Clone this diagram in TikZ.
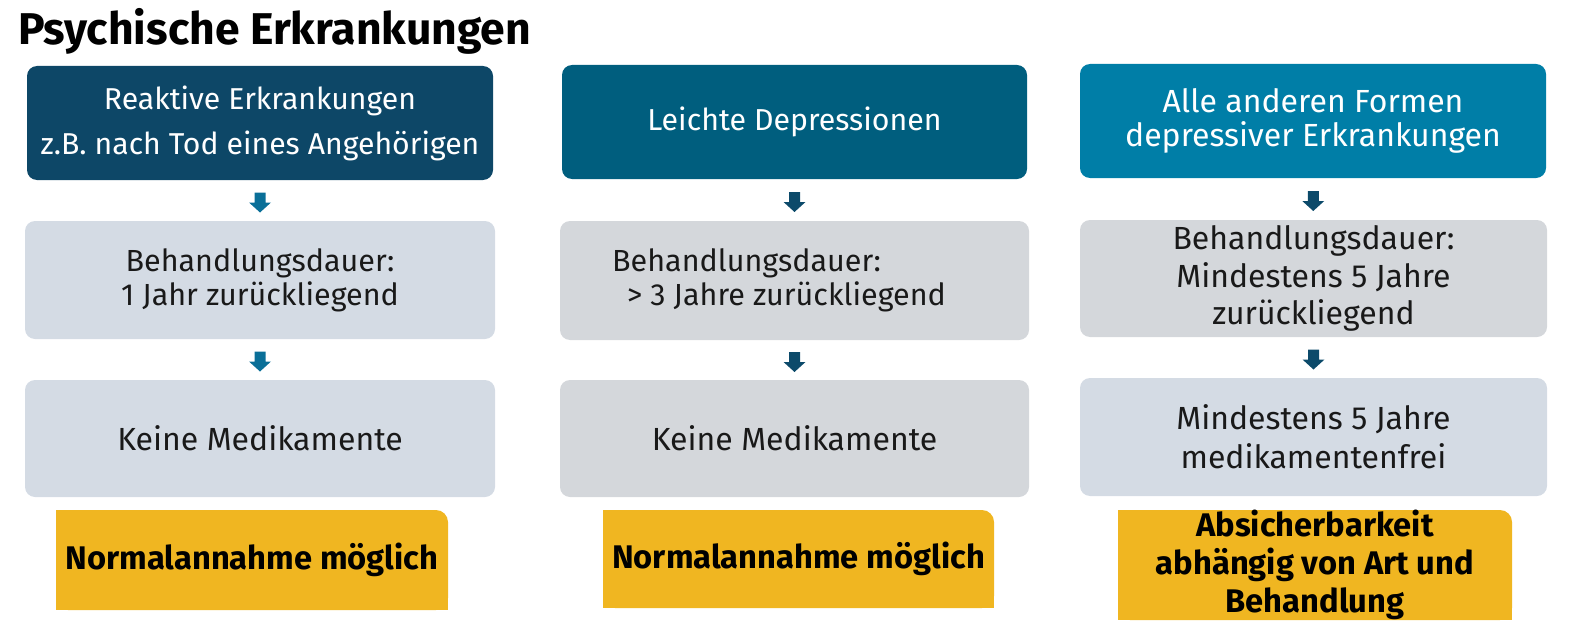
\documentclass[tikz,border=0pt]{standalone}
\usepackage{fontspec}
\setmainfont{Fira Sans}
\usetikzlibrary{calc,backgrounds}
\definecolor{topA}{HTML}{0D4767}
\definecolor{topB}{HTML}{005E7E}
\definecolor{topC}{HTML}{007EA7}
\definecolor{arrA}{HTML}{0A6F98}
\definecolor{arrB}{HTML}{0C4A6A}
\definecolor{grayA}{HTML}{D4DBE4}
\definecolor{grayB}{HTML}{D4D7DB}
\definecolor{yel}{HTML}{F0B621}
\tikzset{
  topbox/.style={rounded corners=10pt, inner sep=0pt, text=white, align=center, minimum width=466pt, minimum height=114pt},
  graybox/.style={rounded corners=10pt, inner sep=0pt, text=black!90, align=center, minimum width=470pt, minimum height=118pt},
  yelbox/.style={rounded corners=12pt, inner sep=0pt, fill=yel, text=black, align=center, font=\bfseries\fontsize{32.7}{38}\selectfont},
  downarr/.pic={\fill (-5.5,-8) -- (5.5,-8) -- (5.5,2) -- (11,2) -- (0,12) -- (-11,2) -- (-5.5,2) -- cycle;}
}
\newcommand{\yelcorners}[1]{%
  \fill[yel] (#1.south west) rectangle ($(#1.north east)+(-15,0)$);
  \fill[yel] (#1.south east) rectangle ($(#1.north west)+(0,15)$);}
\begin{document}
\begin{tikzpicture}[x=1pt,y=-1pt]
\useasboundingbox (0,0) rectangle (1572,626);
\node[anchor=base west, inner sep=0pt, font=\bfseries\fontsize{44.5}{50}\selectfont] (title) at (18,45) {Psychische Erkrankungen};

% column 1
\node[topbox, fill=topA, font=\fontsize{30.2}{45}\selectfont] (t1) at (260,123) {Reaktive Erkrankungen\\z.B. nach Tod eines Angehörigen};
\node[graybox, fill=grayA, font=\fontsize{30.5}{34}\selectfont] (b1) at (260,280) {Behandlungsdauer:\\1 Jahr zurückliegend};
\node[graybox, fill=grayA, font=\fontsize{32}{34}\selectfont, minimum height=117pt] (c1) at (260,438.5) {Keine Medikamente};
\node[yelbox, minimum width=392pt, minimum height=100pt] (y1) at (252,560) {Normalannahme möglich};

% column 2
\node[topbox, fill=topB, minimum width=465pt, font=\fontsize{30.3}{34}\selectfont] (t2) at (794.5,122) {Leichte Depressionen};
\node[graybox, fill=grayB, minimum width=469pt, minimum height=119pt, align=left, font=\fontsize{30.5}{34}\selectfont] (b2) at (794.5,280.5) {Behandlungsdauer:\\\hspace*{15pt}> 3 Jahre zurückliegend\hspace*{31pt}};
\node[graybox, fill=grayB, minimum width=469pt, minimum height=117pt, font=\fontsize{32}{34}\selectfont] (c2) at (794.5,438.5) {Keine Medikamente};
\node[yelbox, minimum width=391pt, minimum height=98pt] (y2) at (798.5,559) {Normalannahme möglich};

% column 3
\node[topbox, fill=topC, font=\fontsize{32}{34}\selectfont] (t3) at (1313,121) {Alle anderen Formen\\depressiver Erkrankungen};
\node[graybox, fill=grayB, minimum width=467pt, minimum height=117pt, font=\fontsize{32}{37.5}\selectfont] (b3) at (1313.5,278.5) {Behandlungsdauer:\\Mindestens 5 Jahre\\zurückliegend};
\node[graybox, fill=grayA, minimum width=467pt, font=\fontsize{32}{39}\selectfont] (c3) at (1313.5,437) {Mindestens 5 Jahre\\medikamentenfrei};
\node[yelbox, minimum width=394pt, minimum height=110pt] (y3) at (1315,565) {Absicherbarkeit\\abhängig von Art und\\Behandlung};

\begin{scope}[on background layer]
\yelcorners{y1}
\yelcorners{y2}
\yelcorners{y3}
\end{scope}

% arrows
\pic[color=arrA] at ($(t1.south)!.5!(b1.north)$) {downarr};
\pic[color=arrA] at ($(b1.south)!.5!(c1.north)$) {downarr};
\pic[color=arrB] at ($(t2.south)!.5!(b2.north)$) {downarr};
\pic[color=arrB] at ($(b2.south)!.5!(c2.north)$) {downarr};
\pic[color=arrB] at ($(t3.south)!.5!(b3.north)$) {downarr};
\pic[color=arrB] at ($(b3.south)!.5!(c3.north)$) {downarr};
\end{tikzpicture}
\end{document}
